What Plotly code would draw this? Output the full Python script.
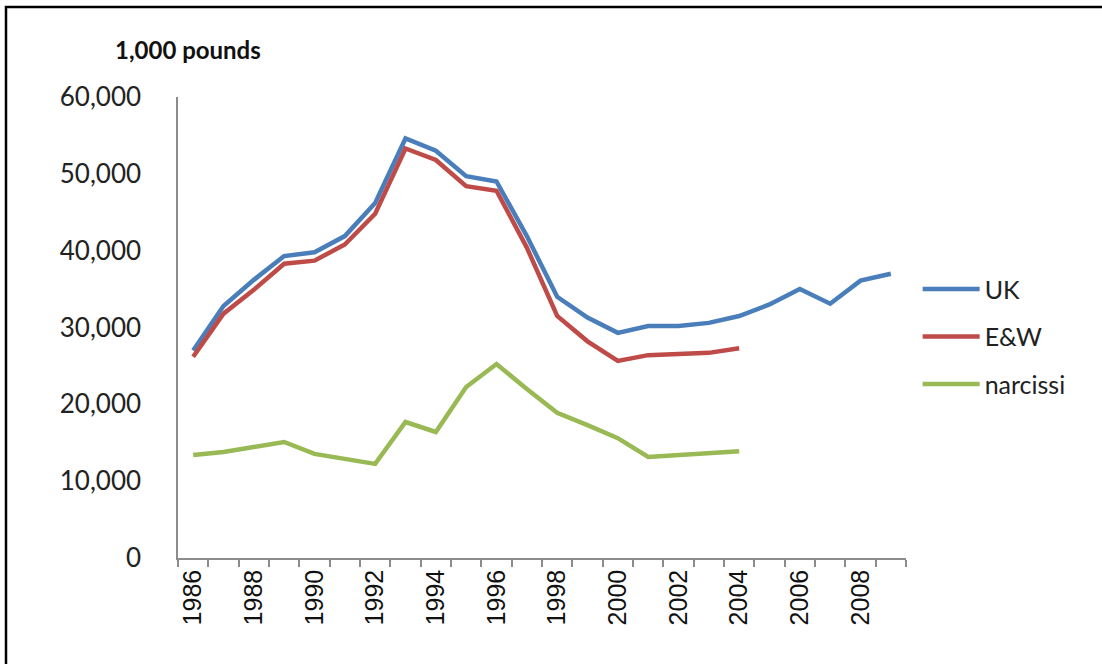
import plotly.graph_objects as go

years = list(range(1986, 2010))
uk = [27000, 32800, 36200, 39300, 39800, 41900, 46200, 54600, 53000, 49700, 49000, 41900,
      34000, 31300, 29300, 30200, 30200, 30600, 31500, 33000, 35000, 33100, 36100, 37000]
ew_years = list(range(1986, 2005))
ew = [26200, 31800, 34900, 38300, 38700, 40800, 44800, 53300, 51800, 48400, 47800, 40400,
      31500, 28200, 25650, 26400, 26550, 26700, 27300]
narc_years = list(range(1986, 2005))
narcissi = [13400, 13800, 14450, 15100, 13550, 12900, 12250, 17700, 16400, 22250, 25250, 22000,
            18900, 17300, 15600, 13150, 13400, 13700, 13900]
tick_years = list(range(1986, 2010, 2))
tick_labels = [str(y) for y in tick_years]
y_ticks = [0, 10000, 20000, 30000, 40000, 50000, 60000]

fig = go.Figure()
fig.add_trace(go.Scatter(x=years, y=uk, name="UK", mode="lines", legendgroup="a",
                         line=dict(color="#4A7EBB", width=4.5)))
fig.add_trace(go.Scatter(x=ew_years, y=ew, name="E&W", mode="lines", legendgroup="b",
                         line=dict(color="#BE4B48", width=4.5)))
fig.add_trace(go.Scatter(x=narc_years, y=narcissi, name="narcissi", mode="lines", legendgroup="c",
                         line=dict(color="#98B954", width=4.5)))

fig.update_layout(
    width=1102, height=664,
    margin=dict(l=178, r=196, t=97, b=106),
    paper_bgcolor="white", plot_bgcolor="white",
    showlegend=True,
    legend=dict(x=1.016, y=0.48, xanchor="left", yanchor="middle",
                font=dict(family="Lato, Liberation Sans", size=25, color="#222"),
                tracegroupgap=12, itemwidth=57, bgcolor="rgba(0,0,0,0)"),
    xaxis=dict(range=[1985.5, 2009.5], tickvals=tick_years, ticktext=tick_labels,
               tickangle=-90, ticks="", showgrid=False, zeroline=False,
               showline=True, linecolor="#8c8c8c", linewidth=1.5,
               tickfont=dict(family="Liberation Sans", size=25, color="#111"),
               minor=dict(ticks="outside", tick0=1985.5, dtick=1, ticklen=7,
                          tickcolor="#8c8c8c", tickwidth=1.5, showgrid=False)),
    yaxis=dict(range=[0, 60000], tickvals=y_ticks, tickformat=",d",
               showgrid=False, zeroline=False, showline=True,
               linecolor="#8c8c8c", linewidth=1.5, ticks="",
               ticklabelstandoff=30,
               tickfont=dict(family="Lato, Liberation Sans", size=26, color="#222")),
    annotations=[dict(text="<b>1,000 pounds</b>", xref="paper", yref="paper",
                      x=(113 - 178) / 728, y=(558 - 49) / 461, xanchor="left", yanchor="middle",
                      showarrow=False,
                      font=dict(family="Lato, Liberation Sans", size=24, color="#111"))],
    shapes=[dict(type="rect", xref="paper", yref="paper",
                 x0=(6 - 178) / 728, x1=(1110 - 178) / 728,
                 y0=(558 - 670) / 461, y1=(558 - 7) / 461,
                 line=dict(color="black", width=2.5), fillcolor="rgba(0,0,0,0)", layer="below")],
)

fig.write_html("out.html", config={"displayModeBar": False},
               post_script="document.body.style.margin='0';document.body.style.overflow='hidden';")
